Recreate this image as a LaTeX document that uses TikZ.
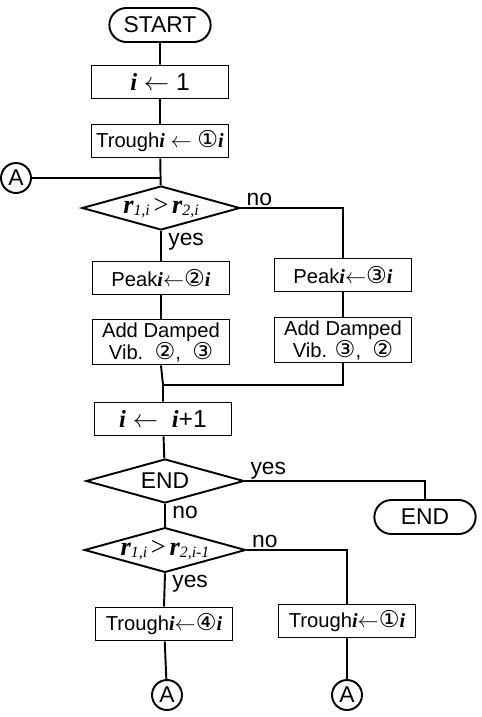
\documentclass[tikz,border=0pt]{standalone}
\usepackage{fontspec}
\setmainfont{Liberation Sans}
\newfontfamily\symfont{DejaVu Sans}[Scale=1.15]
\newfontfamily\varfont{Liberation Serif}
\usetikzlibrary{shapes.geometric,shapes.misc}
\newcommand{\vi}{{\varfont\bfseries\itshape i}}
\newcommand{\lto}{\ensuremath{\leftarrow}}
\newcommand{\cn}[1]{{\symfont #1}}
\newcommand{\rr}[1]{{\varfont\bfseries\itshape\fontsize{15}{16}\selectfont r}{\varfont\itshape\fontsize{9}{10}\selectfont\raisebox{-1.5pt}{#1}}}
\tikzset{
  term/.style={rounded rectangle,draw,line width=1.1pt,minimum width=2.26cm,
    minimum height=0.68cm,font=\fontsize{13}{14}\selectfont},
  proc/.style={rectangle,draw,line width=1.1pt,minimum width=2.74cm,
    minimum height=0.66cm,inner sep=1pt,align=center,font=\fontsize{11.5}{12.5}\selectfont},
  test/.style={diamond,draw,line width=1.1pt,minimum width=3.16cm,
    minimum height=0.88cm,inner sep=0pt,aspect=3.6,font=\fontsize{13}{14}\selectfont},
  conn/.style={circle,draw,line width=1.1pt,minimum size=0.6cm,inner sep=0pt,
    font=\fontsize{13}{14}\selectfont},
  link/.style={draw,line width=1.1pt},
  lbl/.style={font=\fontsize{13}{14}\selectfont,inner sep=1pt},
}
\begin{document}
\begin{tikzpicture}[x=0.02cm,y=-0.02cm]
\useasboundingbox (0,0) rectangle (481,717);
% main column
\node[term] (start) at (160,25) {START};
\node[proc,font=\fontsize{14}{15}\selectfont] (init) at (160,82) {\vi\ \lto\ 1};
\node[proc] (tr0) at (160,141) {Trough\vi\ \lto\ \cn{①}\vi};
\node[conn] (a0) at (16,178) {A};
\node[test] (d1) at (161,208) {\rr{1,i}\,{\varfont\fontsize{15}{16}\selectfont>}\,\rr{2,i}};
\node[proc] (p2) at (161,278) {Peak\vi\lto\cn{②}\vi};
\node[proc] (p3) at (343,275) {Peak\vi\lto\cn{③}\vi};
\node[proc,minimum height=0.9cm] (v2) at (161,342) {Add Damped\\Vib.\ \ \cn{②}, \ \cn{③}};
\node[proc,minimum height=0.9cm] (v3) at (343,340) {Add Damped\\Vib. \cn{③}, \ \cn{②}};
\coordinate (m) at (163,385);
\node[proc,font=\fontsize{14}{15}\selectfont] (inc) at (163,419) {\vi\ \lto\ \ \vi+1};
\node[test] (d2) at (165,481) {END};
\node[term] (stop) at (425,517) {END};
\node[test] (d3) at (165,550) {\rr{1,i}\,{\varfont\fontsize{15}{16}\selectfont>}\,\rr{2,i-1}};
\node[proc] (tr4) at (164,624) {Trough\vi\lto\cn{④}\vi};
\node[proc] (tr1) at (347,621) {Trough\vi\lto\cn{①}\vi};
\node[conn] (a1) at (167,695) {A};
\node[conn] (a2) at (347,695) {A};
% connectors
\draw[link] (start) -- (init);
\draw[link] (init) -- (tr0);
\draw[link] (tr0) -- (d1);
\draw[link] (a0) -- (a0 -| d1.north);
\draw[link] (d1.south) -- (p2.north);
\draw[link] (d1.east) -| (p3.north);
\draw[link] (p2) -- (v2);
\draw[link] (p3) -- (v3);
\draw[link] (v2.south) -- (m) -- (inc.north);
\draw[link] (v3.south) |- (m);
\draw[link] (inc) -- (d2);
\draw[link] (d2.east) -| (stop.north);
\draw[link] (d2.south) -- (d3.north);
\draw[link] (d3.south) -- (tr4.north);
\draw[link] (d3.east) -| (tr1.north);
\draw[link] (tr4) -- (a1);
\draw[link] (tr1) -- (a2);
% labels
\node[lbl,anchor=south west] at ([xshift=2pt]d1.east) {no};
\node[lbl,anchor=north west] at ([xshift=3pt]d1.south) {yes};
\node[lbl,anchor=south west] at ([xshift=2pt]d2.east) {yes};
\node[lbl,anchor=north west] at ([xshift=3pt]d2.south) {no};
\node[lbl,anchor=south west] at ([xshift=2pt]d3.east) {no};
\node[lbl,anchor=north west] at ([xshift=3pt]d3.south) {yes};
\end{tikzpicture}
\end{document}
